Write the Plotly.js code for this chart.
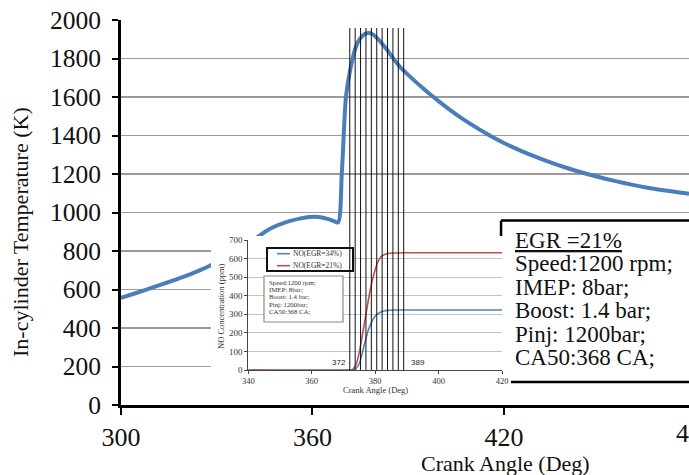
<!DOCTYPE html>
<html><head><meta charset="utf-8">
<script src="https://cdn.plot.ly/plotly-3.0.1.min.js"></script>
<style>html,body{margin:0;padding:0;background:#fff;overflow:hidden}</style>
</head><body><div id="chart" style="width:689px;height:475px"></div>
<script>
// Main chart: in-cylinder temperature
const crankDeg = [300,305,310,315,320,325,328,332,336,340,343.4,347,352,356,359,362,364.4,366.5,368,369.2,370.5,371.8,373.6,375,376.5,377.7,379,381,383,385,387.4,390,395,400,405,410,415,420,425,430,435,440,445,450,455,460,465,470,475,478];
const cylTemp  = [556,583,611,639,668,702,725,758,796,840,880,918,951,968,977,977,968,957,948,1205,1600,1740,1860,1905,1928,1932,1924,1893,1853,1808,1757,1715,1640,1572,1510,1455,1405,1361,1323,1289,1258,1230,1205,1183,1163,1145,1129,1116,1104,1098];
const mainXTicks = [300,360,420];
const cutTickLabel = 480;
const mainYTicks = [0,200,400,600,800,1000,1200,1400,1600,1800,2000];

// Inset: NO concentration
const noDeg   = [340,372,373,374,375,376,377,378,379,380,381,382,383,384,386,390,420];
const noEgr34 = [0,0,0,8,35,95,165,222,262,290,305,314,319,321,323,323,323];
const noEgr21 = [0,0,5,30,95,190,290,390,475,540,588,612,622,627,630,631,631];
const insetXTicks = [340,360,380,400,420];
const insetYTicks = [0,100,200,300,400,500,600,700];
const markerAngles = [372,373.7,375.4,377.1,378.8,380.5,382.2,383.9,385.6,387.3,389];
const markerLabels = ['372','389'];
const legendNames = ['NO(EGR=34%)','NO(EGR=21%)'];
const insetInfoLines = ['Speed:1200 rpm;','IMEP: 8bar;','Boost: 1.4 bar;','Pinj: 1200bar;','CA50:368 CA;'];

// Right text box
const boxLines = ['<u>EGR =21%</u>','Speed:1200 rpm;','IMEP: 8bar;','Boost: 1.4 bar;','Pinj: 1200bar;','CA50:368 CA;'];

const serif = 'Liberation Serif, Times New Roman, serif';
const W = 689, H = 475, L = 121, T = 20, B = 70;
const PW = W - L, PH = H - T - B;
const px = X => (X - L) / PW;
const py = Y => (H - B - Y) / PH;
const xRange = [300, 478];

const blue = '#4a7ebb', red = '#c0504d', nblue = '#4f81bd';

const data = [
  {x: crankDeg, y: cylTemp, type: 'scatter', mode: 'lines', xaxis: 'x', yaxis: 'y',
   line: {color: blue, width: 4, shape: 'spline', smoothing: 0.8}, showlegend: false, hoverinfo: 'skip'},
  {x: [null], y: [null], type: 'scatter', mode: 'none', xaxis: 'x2', yaxis: 'y2', showlegend: false, hoverinfo: 'skip'},
  {x: noDeg, y: noEgr34, name: legendNames[0], type: 'scatter', mode: 'lines', xaxis: 'x3', yaxis: 'y3',
   line: {color: nblue, width: 1.6, shape: 'spline', smoothing: 0.6}, showlegend: false, hoverinfo: 'skip'},
  {x: noDeg, y: noEgr21, name: legendNames[1], type: 'scatter', mode: 'lines', xaxis: 'x3', yaxis: 'y3',
   line: {color: red, width: 1.6, shape: 'spline', smoothing: 0.6}, showlegend: false, hoverinfo: 'skip'}
];

const shapes = [];
// right text box: white fill (between gridlines and traces), borders as separate lines
shapes.push({type: 'rect', xref: 'x', yref: 'y', layer: 'between',
  x0: 419.1, x1: 478, y0: 120, y1: 958, fillcolor: '#fff', line: {width: 0}});
shapes.push({type: 'line', xref: 'x', yref: 'y', layer: 'between', x0: 419.1, x1: 478, y0: 958, y1: 958, line: {color: '#000', width: 2.5}});
shapes.push({type: 'line', xref: 'x', yref: 'y', layer: 'between', x0: 419.1, x1: 478, y0: 120, y1: 120, line: {color: '#000', width: 2.5}});
shapes.push({type: 'line', xref: 'x', yref: 'y', layer: 'between', x0: 419.1, x1: 419.1, y0: 120, y1: 958, line: {color: '#000', width: 2.5}});
// inset legend box
shapes.push({type: 'rect', xref: 'paper', yref: 'paper', layer: 'above',
  x0: px(267), x1: px(353), y0: py(271), y1: py(248), fillcolor: '#fff', line: {color: '#111', width: 2}});
shapes.push({type: 'line', xref: 'paper', yref: 'paper', layer: 'above',
  x0: px(277), x1: px(290), y0: py(253.7), y1: py(253.7), line: {color: nblue, width: 1.6}});
shapes.push({type: 'line', xref: 'paper', yref: 'paper', layer: 'above',
  x0: px(277), x1: px(290), y0: py(265.7), y1: py(265.7), line: {color: red, width: 1.6}});
// inset info box
shapes.push({type: 'rect', xref: 'paper', yref: 'paper', layer: 'above',
  x0: px(264), x1: px(343), y0: py(322), y1: py(276), fillcolor: '#fff', line: {color: '#8a8a8a', width: 1.2}});
// vertical marker lines
markerAngles.forEach(a => shapes.push({type: 'line', xref: 'x3', yref: 'paper', layer: 'above',
  x0: a, x1: a, y0: py(370), y1: py(28), line: {color: '#111', width: 1}}));

const annotations = [];
annotations.push({xref: 'paper', yref: 'paper', x: (cutTickLabel - xRange[0]) / (xRange[1] - xRange[0]), y: py(434),
  xanchor: 'center', yanchor: 'middle', text: String(cutTickLabel), showarrow: false, font: {family: serif, size: 26, color: '#111'}});
annotations.push({xref: 'paper', yref: 'paper', x: px(505), y: py(463), xanchor: 'center', yanchor: 'middle', borderpad: 0,
  text: 'Crank Angle (Deg)', showarrow: false, font: {family: serif, size: 22, color: '#111'}});
annotations.push({xref: 'paper', yref: 'paper', x: px(21), y: py(232), xanchor: 'center', yanchor: 'middle', textangle: -90,
  text: 'In-cylinder Temperature (K)', showarrow: false, font: {family: serif, size: 22, color: '#111'}});
const boxY = [240, 263.5, 287, 310.5, 334, 357.5];
boxLines.forEach((t, i) => annotations.push({xref: 'paper', yref: 'paper', x: px(514), y: py(boxY[i]), borderpad: 0,
  xanchor: 'left', yanchor: 'middle', text: t, showarrow: false, font: {family: serif, size: 23, color: '#111'}}));
// inset titles
annotations.push({xref: 'paper', yref: 'paper', x: px(375), y: py(389.5), xanchor: 'center', yanchor: 'middle', borderpad: 0,
  text: 'Crank Angle (Deg)', showarrow: false, font: {family: serif, size: 8.5, color: '#333'}});
annotations.push({xref: 'paper', yref: 'paper', x: px(221), y: py(306), xanchor: 'center', yanchor: 'middle', textangle: -90,
  text: 'NO Concentration (ppm)', showarrow: false, font: {family: serif, size: 8.5, color: '#333'}});
// marker labels
annotations.push({xref: 'x3', yref: 'y3', x: markerAngles[0], y: 38, xanchor: 'right', yanchor: 'middle', xshift: -2,
  text: markerLabels[0], showarrow: false, font: {family: 'Liberation Sans, Arial, sans-serif', size: 8, color: '#222'}});
annotations.push({xref: 'x3', yref: 'y3', x: markerAngles[markerAngles.length - 1], y: 38, xanchor: 'left', yanchor: 'middle', xshift: 5,
  text: markerLabels[1], showarrow: false, font: {family: 'Liberation Sans, Arial, sans-serif', size: 8, color: '#222'}});
// inset legend text
[253.7, 265.7].forEach((y, i) => annotations.push({xref: 'paper', yref: 'paper', x: px(290.5), y: py(y),
  xanchor: 'left', yanchor: 'middle', text: legendNames[i], showarrow: false, font: {family: serif, size: 7.5, color: '#333'}}));
// inset info text
const infoY = [282, 289.4, 296.8, 304.2, 311.6];
insetInfoLines.forEach((t, i) => annotations.push({xref: 'paper', yref: 'paper', x: px(267.5), y: py(infoY[i]),
  xanchor: 'left', yanchor: 'middle', borderpad: 0, text: t, showarrow: false, font: {family: serif, size: 6.8, color: '#333'}}));

const layout = {
  width: W, height: H, margin: {l: L, r: 0, t: T, b: B},
  paper_bgcolor: '#fff', plot_bgcolor: '#fff', showlegend: false,
  xaxis: {range: xRange, tickvals: mainXTicks, ticktext: mainXTicks.map(String), showgrid: false, zeroline: false,
    showline: true, linecolor: '#000', linewidth: 3, ticks: 'outside', ticklen: 7, tickwidth: 2, tickcolor: '#000',
    tickfont: {family: serif, size: 26, color: '#111'}, ticklabelstandoff: 0},
  yaxis: {range: [0, 2000], tickvals: mainYTicks, ticktext: mainYTicks.map(String), showgrid: true, gridcolor: '#9a9a9a', gridwidth: 1.5,
    zeroline: false, showline: true, linecolor: '#000', linewidth: 3, ticks: 'outside', ticklen: 6, tickwidth: 2, tickcolor: '#000',
    tickfont: {family: serif, size: 25.5, color: '#111'}, ticklabelstandoff: 6},
  xaxis2: {domain: [px(211), px(511)], anchor: 'y2', visible: false, range: [0, 1]},
  yaxis2: {domain: [py(395), py(236)], anchor: 'x2', visible: false, range: [0, 1]},
  xaxis3: {domain: [px(248.3), px(502)], anchor: 'y3', range: [340, 420], tickvals: insetXTicks, ticktext: insetXTicks.map(String),
    showgrid: false, zeroline: false, showline: true, linecolor: '#444', linewidth: 1, ticks: 'outside', ticklen: 3, tickcolor: '#444',
    tickfont: {family: serif, size: 8.5, color: '#333'}, ticklabelstandoff: 0},
  yaxis3: {domain: [py(370), py(240)], anchor: 'x3', range: [0, 700], tickvals: insetYTicks, ticktext: insetYTicks.map(String),
    showgrid: true, gridcolor: '#c4c4c4', gridwidth: 1, zeroline: false, showline: true, linecolor: '#444', linewidth: 1,
    ticks: 'outside', ticklen: 3, tickcolor: '#444', tickfont: {family: serif, size: 9, color: '#333'}},
  shapes: shapes,
  annotations: annotations
};

Plotly.newPlot('chart', data, layout, {staticPlot: true, displayModeBar: false});
</script></body></html>
